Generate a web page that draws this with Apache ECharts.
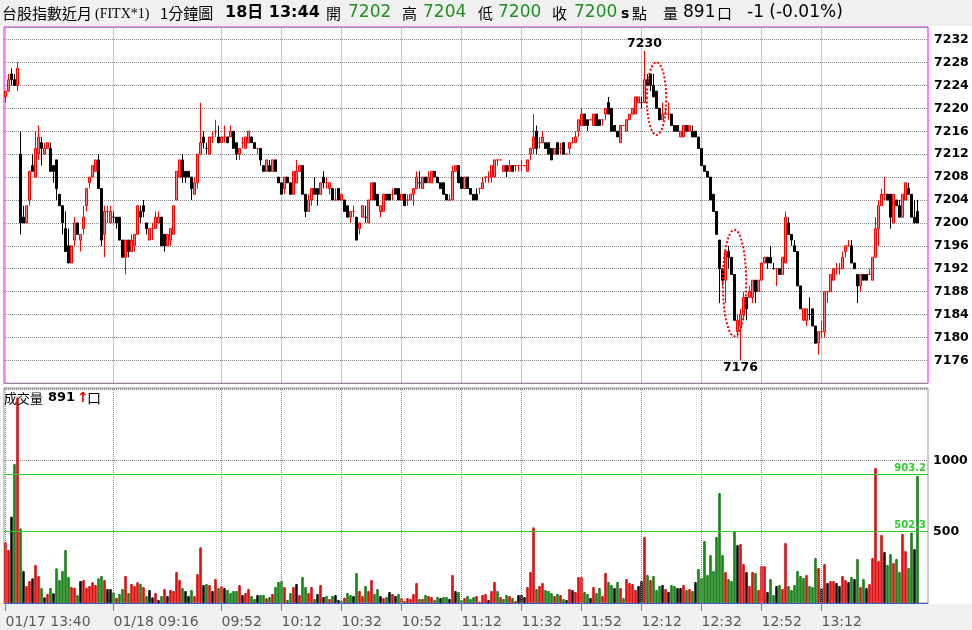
<!DOCTYPE html>
<html><head><meta charset="utf-8">
<script src="https://cdn.jsdelivr.net/npm/echarts@6/dist/echarts.min.js"></script>
<style>html,body{margin:0;padding:0;background:#fff}#c{width:972px;height:630px}</style>
</head><body><div id="c"></div>
<script>
function hhmm(m){return String(Math.floor(m/60)).padStart(2,'0')+':'+String(m%60).padStart(2,'0');}
const categories=[];
for(let m=13*60+40;m<=13*60+44;m++)categories.push('01/17 '+hhmm(m));
for(let m=8*60+45;m<=13*60+47;m++)categories.push('01/18 '+hhmm(m));
const labelIdx=[0,36,72,92,112,132,152,172,192,212,232,252,272];

const open=[7222,7223,7226,7225,7224,7212,7201,7200,7204,7210,7208,7212,7214,7212,7213,7213,7210,7211,7205,7203,
7199,7196,7193,7197,7200,7197,7199,7203,7207,7208,7209,7211,7206,7198,7202,7200,7201,7201,7201,7197,
7194,7197,7195,7196,7198,7202,7203,7200,7197,7199,7199,7200,7201,7198,7196,7197,7198,7204,7208,7211,
7209,7209,7208,7205,7207,7212,7215,7213,7212,7215,7216,7215,7214,7215,7215,7215,7216,7214,7212,7214,
7213,7214,7215,7214,7213,7213,7210,7209,7210,7209,7211,7208,7207,7206,7208,7207,7205,7207,7209,7210,
7205,7202,7204,7206,7206,7205,7208,7207,7206,7206,7204,7206,7204,7204,7203,7201,7202,7201,7199,7201,
7201,7200,7204,7207,7205,7202,7202,7205,7205,7205,7206,7206,7204,7205,7204,7204,7205,7206,7207,7206,
7208,7207,7207,7209,7208,7207,7207,7205,7204,7204,7209,7210,7208,7206,7208,7206,7205,7205,7206,7206,
7208,7208,7208,7208,7211,7211,7209,7210,7209,7210,7210,7210,7210,7210,7209,7212,7213,7216,7214,7214,
7214,7214,7213,7212,7214,7213,7214,7212,7213,7214,7214,7216,7217,7219,7218,7218,7217,7219,7218,7218,
7219,7221,7220,7217,7216,7214,7217,7216,7218,7219,7219,7221,7221,7221,7225,7226,7224,7223,7220,7218,
7219,7219,7219,7217,7217,7215,7215,7217,7216,7216,7216,7215,7213,7210,7209,7208,7205,7202,7197,7192,
7190,7195,7194,7191,7181,7182,7184,7187,7187,7187,7190,7188,7190,7193,7194,7194,7192,7192,7192,7191,
7193,7200,7198,7196,7195,7189,7183,7183,7184,7185,7182,7179,7181,7181,7188,7188,7190,7192,7192,7192,
7195,7196,7196,7193,7191,7189,7191,7191,7191,7190,7194,7199,7203,7205,7205,7205,7200,7204,7203,7201,
7204,7206,7205,7201,7202];
const high=[7223,7226,7227,7226,7228,7216,7203,7203,7209,7212,7216,7217,7215,7214,7214,7214,7210,7211,7205,7203,
7202,7199,7196,7201,7200,7198,7203,7206,7208,7210,7211,7212,7206,7203,7203,7203,7202,7201,7201,7197,
7197,7197,7198,7198,7203,7203,7204,7200,7199,7200,7202,7202,7201,7198,7198,7199,7203,7209,7211,7212,
7209,7209,7208,7208,7212,7221,7216,7214,7215,7216,7218,7217,7215,7217,7215,7217,7216,7214,7213,7215,
7215,7216,7215,7214,7213,7213,7210,7211,7211,7211,7211,7208,7207,7208,7208,7207,7209,7211,7210,7210,
7205,7205,7206,7208,7206,7207,7209,7208,7207,7206,7206,7206,7205,7204,7203,7202,7203,7201,7200,7203,
7203,7204,7207,7207,7205,7203,7205,7205,7205,7206,7206,7206,7205,7205,7205,7205,7206,7209,7209,7208,
7208,7209,7209,7209,7208,7207,7207,7205,7205,7210,7210,7210,7208,7208,7208,7206,7205,7206,7206,7208,
7208,7209,7210,7211,7211,7211,7210,7210,7211,7210,7210,7210,7211,7210,7211,7213,7219,7217,7215,7216,
7214,7214,7213,7213,7214,7214,7214,7212,7214,7215,7216,7218,7220,7219,7218,7218,7219,7219,7218,7218,
7220,7222,7220,7217,7216,7217,7217,7218,7219,7220,7222,7222,7222,7230,7226,7226,7226,7223,7220,7221,
7220,7221,7219,7217,7217,7216,7217,7217,7217,7217,7216,7215,7213,7210,7209,7208,7205,7202,7197,7192,
7195,7196,7194,7191,7184,7185,7188,7187,7189,7190,7190,7190,7193,7194,7194,7196,7193,7192,7192,7194,
7202,7201,7198,7197,7195,7189,7185,7185,7187,7185,7182,7181,7183,7188,7188,7191,7192,7193,7193,7195,
7196,7197,7197,7193,7191,7191,7191,7191,7192,7194,7201,7204,7206,7208,7205,7205,7205,7204,7204,7205,
7207,7207,7205,7204,7204];
const low=[7221,7223,7224,7224,7223,7198,7200,7200,7203,7209,7208,7211,7210,7212,7213,7209,7207,7204,7203,7198,
7195,7193,7193,7196,7198,7195,7198,7202,7206,7208,7209,7206,7196,7194,7200,7200,7200,7199,7197,7194,
7191,7194,7195,7195,7198,7200,7201,7198,7197,7197,7199,7200,7196,7195,7196,7196,7198,7204,7208,7207,
7207,7208,7204,7205,7206,7212,7213,7212,7212,7214,7215,7214,7214,7214,7214,7215,7213,7211,7211,7213,
7213,7214,7214,7213,7212,7210,7209,7209,7209,7209,7209,7207,7205,7205,7207,7205,7205,7207,7209,7205,
7201,7202,7203,7205,7203,7205,7206,7206,7205,7204,7204,7204,7204,7202,7201,7200,7201,7197,7198,7201,
7200,7200,7204,7204,7203,7201,7202,7204,7204,7204,7205,7204,7204,7203,7203,7204,7203,7206,7206,7206,
7207,7207,7207,7208,7207,7206,7205,7204,7204,7204,7209,7207,7206,7206,7206,7205,7204,7204,7205,7206,
7207,7207,7207,7208,7210,7211,7209,7208,7209,7209,7209,7209,7209,7210,7209,7211,7212,7212,7213,7214,
7213,7212,7211,7212,7212,7212,7212,7212,7212,7214,7214,7215,7217,7217,7216,7218,7217,7217,7217,7217,
7218,7219,7216,7216,7215,7214,7217,7216,7218,7219,7219,7221,7220,7221,7224,7223,7222,7220,7218,7218,
7219,7218,7217,7216,7216,7215,7215,7216,7216,7215,7215,7213,7210,7209,7208,7204,7202,7198,7186,7189,
7186,7192,7191,7183,7180,7176,7183,7183,7187,7186,7186,7188,7190,7193,7192,7193,7192,7189,7191,7191,
7193,7198,7196,7195,7189,7185,7183,7182,7183,7182,7179,7177,7180,7180,7186,7188,7190,7191,7191,7192,
7194,7196,7193,7192,7186,7188,7190,7190,7191,7190,7194,7196,7203,7204,7204,7199,7200,7203,7201,7201,
7204,7205,7201,7200,7200];
const close=[7223,7225,7225,7224,7227,7200,7200,7203,7209,7209,7213,7215,7213,7213,7214,7209,7209,7206,7203,7200,
7195,7193,7196,7200,7198,7198,7201,7206,7208,7210,7211,7206,7197,7202,7202,7202,7201,7200,7197,7194,
7197,7195,7197,7198,7203,7201,7202,7199,7199,7199,7201,7201,7196,7196,7198,7199,7203,7209,7211,7208,
7208,7208,7206,7207,7212,7214,7214,7213,7215,7215,7216,7214,7215,7215,7214,7216,7213,7212,7213,7214,
7215,7216,7214,7213,7213,7211,7209,7211,7209,7211,7209,7207,7205,7208,7207,7205,7209,7209,7210,7205,
7202,7204,7206,7205,7205,7207,7207,7207,7207,7204,7204,7204,7205,7202,7201,7202,7202,7197,7200,7203,
7201,7204,7207,7204,7203,7203,7205,7204,7204,7205,7205,7204,7205,7203,7204,7205,7206,7208,7207,7208,
7207,7208,7209,7208,7207,7206,7205,7204,7204,7209,7210,7207,7206,7208,7206,7205,7204,7204,7206,7207,
7208,7208,7210,7211,7211,7211,7210,7209,7210,7209,7210,7210,7210,7210,7211,7213,7215,7213,7214,7215,
7213,7212,7211,7213,7212,7213,7212,7212,7214,7214,7215,7218,7219,7217,7217,7218,7219,7217,7217,7218,
7220,7219,7216,7216,7215,7217,7217,7218,7219,7220,7222,7222,7221,7225,7224,7224,7222,7220,7218,7219,
7219,7219,7217,7216,7216,7216,7217,7216,7217,7215,7215,7213,7210,7209,7208,7204,7202,7198,7192,7190,
7195,7194,7191,7183,7183,7184,7187,7185,7188,7190,7188,7190,7193,7194,7193,7193,7192,7192,7191,7194,
7201,7198,7197,7195,7189,7185,7185,7185,7184,7182,7179,7181,7181,7188,7188,7191,7192,7192,7192,7194,
7196,7196,7193,7192,7189,7191,7190,7190,7191,7194,7199,7203,7205,7205,7204,7201,7205,7203,7201,7205,
7207,7205,7201,7200,7200];
const volume=[425,371,605,974,1440,523,224,119,154,173,266,189,105,40,63,105,68,243,161,224,
371,182,112,107,56,154,161,107,119,145,126,173,189,161,98,98,75,37,63,98,
189,70,133,119,145,133,112,49,91,40,70,21,49,98,49,91,84,217,161,105,
84,49,91,49,203,390,126,133,126,84,168,105,119,105,91,70,84,84,126,56,
70,98,49,28,56,56,56,33,42,63,112,147,154,112,21,70,112,133,56,182,
112,70,112,28,63,126,42,49,28,49,56,21,14,37,70,56,49,210,84,49,
119,84,161,63,98,49,35,42,77,63,49,63,35,14,35,28,63,140,28,28,
56,49,42,21,42,35,42,42,28,196,84,77,21,35,49,28,42,49,9,56,
63,21,84,147,84,42,28,56,49,35,14,56,56,42,112,217,530,98,119,140,
91,84,70,49,63,56,28,21,98,91,77,182,182,77,63,35,112,70,105,49,
210,147,126,105,147,105,35,168,140,133,91,119,154,463,196,161,189,91,119,126,
98,77,126,119,105,105,126,91,98,84,147,238,175,434,196,336,224,463,771,336,
217,168,154,505,406,413,273,217,119,217,210,91,259,259,77,168,56,119,126,98,
420,119,91,126,224,189,175,196,119,112,315,245,105,273,140,154,154,140,119,189,
161,147,182,168,308,112,168,105,133,315,946,294,477,357,266,343,280,308,217,484,
364,245,493,378,891];
// volume bar colour code per minute: r = red, g = green, k = black
const volCode=[
'r','r','k','g','r','g','k','r','r','k','r','r','g','k','r','g','k','g','g','g',
'g','g','r','r','g','k','r','r','r','r','r','g','g','r','k','k','g','r','g','g',
'r','g','r','r','r','g','r','g','k','k','r','k','g','r','k','r','r','r','r','g',
'k','k','g','r','r','r','k','g','r','k','r','g','r','k','g','g','g','g','r','k',
'r','r','g','g','k','g','g','r','g','r','g','g','g','r','g','g','r','k','r','g',
'g','r','r','g','k','r','k','g','r','g','k','k','g','r','g','g','k','g','r','r',
'g','r','r','g','g','k','r','g','k','r','k','g','r','g','r','r','r','r','g','r',
'g','r','r','g','g','k','g','g','k','r','k','g','g','r','g','g','g','r','r','r',
'r','k','r','r','g','r','g','g','r','g','r','k','k','k','r','r','r','g','r','r',
'g','g','g','r','g','r','g','k','r','k','r','r','r','g','g','k','r','g','g','r',
'r','g','g','k','g','r','g','r','r','r','r','k','k','r','g','r','g','g','g','k',
'r','k','g','g','k','k','r','g','r','g','k','g','g','g','g','g','g','g','g','g',
'r','g','g','g','k','r','r','k','r','r','g','r','r','r','k','g','g','k','g','r',
'r','g','g','g','g','g','g','r','g','g','g','r','k','r','k','r','r','k','k','r',
'r','k','g','k','g','r','g','k','r','r','r','r','r','k','g','g','r','g','g','r',
'r','g','g','k','g'];
const refLines=[903.2,502.3];

const chart=echarts.init(document.getElementById('c'),null,{renderer:'canvas'});
const candleData=open.map((o,i)=>[o,close[i],low[i],high[i]]);
const palette={r:['#ff1a1a','#d00000'],g:['#22a822','#0a700a'],k:['#1a1a1a','#000000']};
const volData=volume.map((v,i)=>({value:v,itemStyle:{color:palette[volCode[i]][0],borderColor:palette[volCode[i]][1]}}));
const vlines=labelIdx.map(i=>({xAxis:categories[i]}));
const gridLineStyle={type:'dotted',color:'#8c8c8c',width:1};
const numFont='"DejaVu Sans", sans-serif';

const last=open.length-1;
const option={
  animation:false,
  backgroundColor:'#ffffff',
  grid:[
    {left:4,top:27,width:924,height:356.3,show:true,borderColor:'#ff00ff',borderWidth:1,backgroundColor:'#fff'},
    {left:4,top:388,width:924,height:215,show:true,borderColor:'#9a9a9a',borderWidth:1,backgroundColor:'#fff'}
  ],
  xAxis:[
    {type:'category',gridIndex:0,data:categories,boundaryGap:true,axisLine:{show:false},axisTick:{show:false},axisLabel:{show:false},splitLine:{show:false}},
    {type:'category',gridIndex:1,data:categories,boundaryGap:true,
     axisLine:{show:true,lineStyle:{color:'#3a5fc8',width:1}},
     axisTick:{show:true,alignWithLabel:true,length:8,lineStyle:{color:'#808080'},interval:(i)=>labelIdx.includes(i)},
     axisLabel:{show:true,interval:(i)=>labelIdx.includes(i),align:'left',margin:12,color:'#5a5a5a',fontFamily:numFont,fontSize:14,
       formatter:(v,i)=> (i===0||i===36)? v : v.slice(6)},
     splitLine:{show:false}}
  ],
  yAxis:[
    {type:'value',gridIndex:0,position:'right',min:7172,max:7234.2,interval:4,
     axisLine:{show:false},axisTick:{show:false},
     axisLabel:{margin:6,color:'#000',fontFamily:numFont,fontWeight:'bold',fontSize:12.5,
       formatter:(v)=> (Math.abs(v%4)<1e-6 && v>=7176 && v<=7232)? String(v):''},
     splitLine:{show:true,lineStyle:gridLineStyle}},
    {type:'value',gridIndex:1,position:'right',min:0,max:1507,interval:500,
     axisLine:{show:false},axisTick:{show:false},
     axisLabel:{margin:5,color:'#000',fontFamily:numFont,fontWeight:'bold',fontSize:12.5,
       formatter:(v)=> (v===500||v===1000)? String(v):''},
     splitLine:{show:true,lineStyle:gridLineStyle}}
  ],
  series:[
    {type:'candlestick',xAxisIndex:0,yAxisIndex:0,data:candleData,barWidth:2,
     itemStyle:{color:'#ff7b7b',color0:'#000000',borderColor:'#ff0000',borderColor0:'#000000',borderWidth:1},
     markLine:{silent:true,symbol:['none','none'],label:{show:false},lineStyle:gridLineStyle,data:vlines,z:1},
     markPoint:{symbol:'circle',symbolSize:1,itemStyle:{color:'rgba(0,0,0,0)'},silent:true,
       label:{show:true,formatter:'{c}',color:'#000',fontFamily:numFont,fontWeight:'bold',fontSize:12.5},
       data:[{type:'max',valueDim:'highest',label:{position:'top',distance:0}},
             {type:'min',valueDim:'lowest',label:{position:'bottom',distance:0}}]}
    },
    {type:'bar',xAxisIndex:1,yAxisIndex:1,data:volData,barWidth:2.4,itemStyle:{borderWidth:1},
     markLine:{silent:true,symbol:['none','none'],
       data:vlines.map(d=>Object.assign({},d,{lineStyle:gridLineStyle,label:{show:false}})).concat(
         refLines.map(v=>({yAxis:v,lineStyle:{type:'solid',color:'#2ecc2e',width:1},
           label:{show:true,position:'insideEndTop',formatter:String(v),color:'#2ecc2e',fontFamily:numFont,fontWeight:'bold',fontSize:10,distance:[2,1]}})))}
    }
  ]
};
chart.setOption(option);

// annotation ellipses, placed in data coordinates
const e1=chart.convertToPixel({gridIndex:0},[217.1,7221.7]);
const e2=chart.convertToPixel({gridIndex:0},[242.8,7189.5]);
const cj='"Noto Sans CJK TC", sans-serif';
function T(x,y,text,font,color){return {type:'text',x:x,y:y,style:{text:text,font:font,fill:color||'#000',textVerticalAlign:'middle'},z:10};}
const green='#1f8f1f';
const ty=13;
chart.setOption({graphic:[
  {type:'rect',shape:{x:0,y:0,width:972,height:26},style:{fill:'#f0f0f0'},z:-100},
  {type:'rect',shape:{x:0,y:604,width:972,height:26},style:{fill:'#f0f0f0'},z:-100},
  {type:'ellipse',shape:{cx:e1[0],cy:e1[1],rx:9.7,ry:36.3},style:{fill:'none',stroke:'#ff0000',lineWidth:2,lineDash:[2,2]},z:20},
  {type:'ellipse',shape:{cx:e2[0],cy:e2[1],rx:11.7,ry:53.3},style:{fill:'none',stroke:'#ff0000',lineWidth:2,lineDash:[2,2]},z:20},
  T(2,ty,'台股指數近月','15px '+cj),
  T(95,ty+1,'(FITX*1)','14px "Liberation Serif"'),
  T(160,ty,'1分鐘圖','15px '+cj),
  T(225,ty,'18日 13:44','bold 16px "DejaVu Sans","Noto Sans CJK TC"'),
  T(326,ty,'開','15px '+cj),
  T(348,ty,String(open[last]),'17px '+numFont,green),
  T(402,ty,'高','15px '+cj),
  T(423,ty,String(high[last]),'17px '+numFont,green),
  T(478,ty,'低','15px '+cj),
  T(498,ty,String(low[last]),'17px '+numFont,green),
  T(552,ty,'收','15px '+cj),
  T(574,ty,String(close[last]),'17px '+numFont,green),
  T(621,ty+1,'s','bold 14px '+numFont),
  T(632,ty,'點','15px '+cj),
  T(663,ty,'量','15px '+cj),
  T(683,ty,String(volume[last]),'17px '+numFont),
  T(717,ty,'口','15px '+cj),
  T(747,ty,'-1 (-0.01%)','17px '+numFont),
  T(4,398,'成交量','13px '+cj),
  T(48,398,String(volume[last]),'bold 13px '+numFont),
  T(77,398,'↑','bold 14px '+numFont,'#e00000'),
  T(87,398,'口','14px '+cj)
]});
</script>
</body></html>
